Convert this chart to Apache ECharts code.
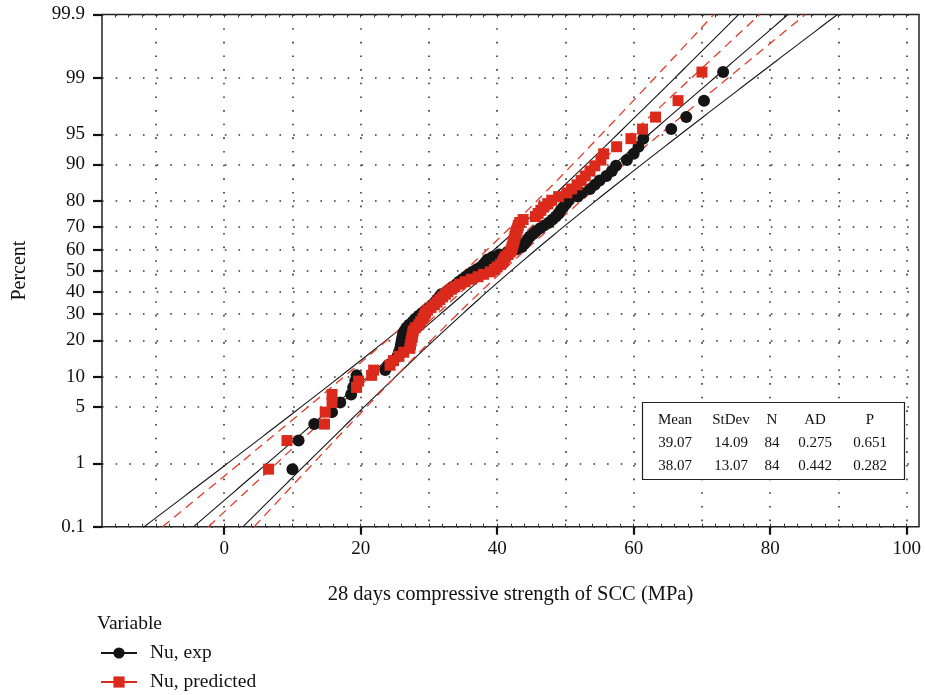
<!DOCTYPE html>
<html><head><meta charset="utf-8">
<script src="https://cdn.jsdelivr.net/npm/echarts@6/dist/echarts.min.js"></script>
<style>html,body{margin:0;padding:0;background:#fff}#c{width:925px;height:695px}</style>
</head><body><div id="c"></div>
<script>
const expValues = [
  10.0, 10.9, 13.2, 15.8, 17.0, 18.6, 18.9, 19.2, 19.4, 23.6,
  24.0, 24.8, 25.4, 25.6, 25.8, 25.9, 26.0, 26.1, 26.2, 26.4,
  26.7, 27.1, 27.6, 28.0, 28.5, 29.0, 29.5, 30.0, 30.5, 30.9,
  31.2, 31.5, 31.8, 32.6, 33.0, 33.5, 34.0, 34.4, 34.9, 35.4,
  35.9, 36.4, 37.0, 37.6, 38.0, 38.3, 38.6, 39.3, 40.3, 41.5,
  42.8, 43.6, 43.9, 44.2, 44.5, 44.8, 45.3, 45.7, 46.3, 46.9,
  47.6, 48.1, 48.6, 49.0, 49.3, 49.7, 50.1, 50.5, 51.8, 52.4,
  53.6, 54.3, 55.0, 56.0, 56.8, 57.4, 59.0, 60.0, 60.7, 61.4,
  65.5, 67.7, 70.3, 73.1
];
const predValues = [
  6.5, 9.2, 14.7, 14.8, 15.8, 15.8, 19.4, 19.7, 21.6, 21.9,
  24.3, 24.8, 25.6, 26.3, 27.2, 27.3, 27.4, 27.5, 27.6, 27.7,
  28.0, 28.5, 28.8, 29.1, 29.3, 29.5, 29.8, 30.3, 30.8, 31.2,
  31.6, 32.0, 32.4, 32.8, 33.3, 33.8, 34.5, 35.3, 36.2, 37.2,
  38.0, 39.0, 39.6, 40.0, 40.5, 40.8, 41.0, 41.2, 41.6, 41.9,
  42.1, 42.2, 42.3, 42.4, 42.5, 42.6, 42.7, 42.8, 43.0, 43.1,
  43.3, 43.8, 45.6, 46.0, 46.4, 46.8, 47.4, 48.0, 49.0, 50.2,
  50.9, 51.7, 52.3, 52.9, 53.6, 54.3, 55.2, 55.6, 57.5, 59.6,
  61.3, 63.2, 66.5, 70.0
];
const seriesNames = ['Nu, exp', 'Nu, predicted'];
const fitMeans = [39.07, 38.07];
const fitStDevs = [14.09, 13.07];
const fitN = [84, 84];
const percentTicks = [0.1, 1, 5, 10, 20, 30, 40, 50, 60, 70, 80, 90, 95, 99, 99.9];
const xMajorTicks = [0, 20, 40, 60, 80, 100];
const xGridTicks = [-10, 0, 10, 20, 30, 40, 50, 60, 70, 80, 90, 100];
const xMinorTicks = [-16,-14,-12,-10,-8,-6,-4,-2,0,2,4,6,8,10,12,14,16,18,20,22,24,26,28,30,32,34,36,38,40,42,44,46,48,50,52,54,56,58,60,62,64,66,68,70,72,74,76,78,80,82,84,86,88,90,92,94,96,98,100];
const statsHeader = ['Mean', 'StDev', 'N', 'AD', 'P'];
const statsRow1 = ['39.07', '14.09', '84', '0.275', '0.651'];
const statsRow2 = ['38.07', '13.07', '84', '0.442', '0.282'];

// ---- normal probability scale helpers ----
function probit(p){
  const a=[-3.969683028665376e+01,2.209460984245205e+02,-2.759285104469687e+02,1.383577518672690e+02,-3.066479806614716e+01,2.506628277459239e+00];
  const b=[-5.447609879822406e+01,1.615858368580409e+02,-1.556989798598866e+02,6.680131188771972e+01,-1.328068155288572e+01];
  const c=[-7.784894002430293e-03,-3.223964580411365e-01,-2.400758277161838e+00,-2.549671875000000e+00,4.374664141464968e+00,2.938163982698783e+00];
  const d=[7.784695709041462e-03,3.224671290700398e-01,2.445134137142996e+00,3.754408661907416e+00];
  const pl=0.02425, ph=1-pl; let q,r;
  if(p<pl){q=Math.sqrt(-2*Math.log(p));return (((((c[0]*q+c[1])*q+c[2])*q+c[3])*q+c[4])*q+c[5])/((((d[0]*q+d[1])*q+d[2])*q+d[3])*q+1);}
  if(p>ph){q=Math.sqrt(-2*Math.log(1-p));return -(((((c[0]*q+c[1])*q+c[2])*q+c[3])*q+c[4])*q+c[5])/((((d[0]*q+d[1])*q+d[2])*q+d[3])*q+1);}
  q=p-0.5;r=q*q;return (((((a[0]*r+a[1])*r+a[2])*r+a[3])*r+a[4])*r+a[5])*q/(((((b[0]*r+b[1])*r+b[2])*r+b[3])*r+b[4])*r+1);
}
const zTicks = percentTicks.map(p => probit(p/100));
const zMin = zTicks[0], zMax = zTicks[zTicks.length-1];
const X_MIN = -17.9, X_MAX = 101.8;

// plotting positions (median ranks)
function probPoints(vals){
  const n = vals.length;
  return vals.map((v,i) => [v, probit((i+1-0.3)/(n+0.4))]);
}
// fitted line and 95% confidence band
function fitCurve(mu, sd, n, k){
  const pts = [];
  const steps = 120;
  for(let s=0;s<=steps;s++){
    const z = zMin + (zMax-zMin)*s/steps;
    const se = sd*Math.sqrt((1 + z*z/2)/n);
    pts.push([mu + sd*z + k*1.96*se, z]);
  }
  return pts;
}

const BLACK = '#151515', RED = '#db2a1c', REDLINE = '#e63a2b';
const FONT = 'Liberation Serif';
const chart = echarts.init(document.getElementById('c'), null, {renderer:'canvas'});

const dotted = {show:true, lineStyle:{color:'#333', width:1.6, type:[1.6, 12.05]}};
const baseX = {type:'value', min:X_MIN, max:X_MAX, axisLine:{show:false, onZero:false}, splitLine:{show:false}, axisLabel:{show:false}, axisTick:{show:false}};

const series = [];
[-1,0,1].forEach(k => series.push({type:'line', name:'fitE'+k, data:fitCurve(fitMeans[0],fitStDevs[0],fitN[0],k), showSymbol:false, symbol:'none', silent:true, lineStyle:{color:BLACK, width:1.1}, z:2, legendHoverLink:false}));
[-1,0,1].forEach(k => series.push({type:'line', name:'fitP'+k, data:fitCurve(fitMeans[1],fitStDevs[1],fitN[1],k), showSymbol:false, symbol:'none', silent:true, lineStyle:{color:REDLINE, width:1.3, type:[9,6]}, z:2, legendHoverLink:false}));
series.push({type:'line', name:seriesNames[0], data:probPoints(expValues), symbol:'circle', symbolSize:12, showAllSymbol:true,
  itemStyle:{color:BLACK}, lineStyle:{color:BLACK, width:0, opacity:0}, z:5});
series.push({type:'line', name:seriesNames[1], data:probPoints(predValues), symbol:'rect', symbolSize:11, showAllSymbol:true,
  itemStyle:{color:RED}, lineStyle:{color:RED, width:0, opacity:0}, z:6});

const colX = [675, 731, 772, 815, 870];
const graphics = [
  {type:'text', left:97, top:614, style:{text:'Variable', font:'19.5px "'+FONT+'"', fill:'#111'}},
  {type:'rect', shape:{x:642.5, y:402.5, width:262, height:77}, style:{fill:'#fff', stroke:'#222', lineWidth:1.2}, z:10}
];
[statsHeader, statsRow1, statsRow2].forEach((row, r) => {
  row.forEach((t, ci) => graphics.push({type:'text', x:colX[ci], y:[420,443,466][r], z:11,
    style:{text:t, font:'15px "'+FONT+'"', fill:'#111', align:'center', verticalAlign:'middle'}}));
});

chart.setOption({
  animation:false,
  backgroundColor:'#fff',
  textStyle:{fontFamily:FONT},
  grid:{left:102, right:6, top:14.5, bottom:168.3, show:true, borderColor:'#222', borderWidth:1.5, backgroundColor:'transparent'},
  xAxis:[
    Object.assign({}, baseX, {position:'bottom',
      name:'28 days compressive strength of SCC (MPa)', nameLocation:'middle', nameGap:57,
      nameTextStyle:{fontFamily:FONT, fontSize:20.5, color:'#111'},
      axisTick:{show:true, inside:false, length:8, lineStyle:{color:'#111', width:2.2}, customValues:xMajorTicks},
      axisLabel:{show:true, margin:13, fontFamily:FONT, fontSize:19, color:'#111', customValues:xMajorTicks}}),
    Object.assign({}, baseX, {position:'bottom', axisTick:{show:true, inside:true, length:3, lineStyle:{color:'#333', width:1}, customValues:xMinorTicks}}),
    Object.assign({}, baseX, {position:'top', axisTick:{show:true, inside:true, length:3, lineStyle:{color:'#333', width:1}, customValues:xMinorTicks}}),
    Object.assign({}, baseX, {position:'bottom', axisTick:{show:false, customValues:xGridTicks}, splitLine:dotted})
  ],
  yAxis:[{
    type:'value', min:zMin, max:zMax, position:'left',
    name:'Percent', nameLocation:'middle', nameGap:72, nameRotate:90,
    nameTextStyle:{fontFamily:FONT, fontSize:20, color:'#111'},
    axisLine:{show:false, onZero:false},
    axisTick:{show:true, inside:false, length:9, lineStyle:{color:'#111', width:2.2}, customValues:zTicks},
    axisLabel:{show:true, margin:17, fontFamily:FONT, fontSize:19, color:'#111', customValues:zTicks,
      formatter:(v) => { let bi=0, bd=1e9; zTicks.forEach((z,i)=>{const d=Math.abs(z-v); if(d<bd){bd=d;bi=i;}}); return String(percentTicks[bi]); }},
    splitLine:dotted
  }],
  legend:{
    data:[
      {name:seriesNames[0], lineStyle:{opacity:1, width:2, color:BLACK}},
      {name:seriesNames[1], lineStyle:{opacity:1, width:2, color:RED}}
    ],
    orient:'vertical', left:100, top:643, padding:0, itemWidth:36, itemHeight:14, itemGap:9,
    textStyle:{fontFamily:FONT, fontSize:19.5, lineHeight:20, color:'#111', padding:[0,0,0,8]}, selectedMode:false
  },
  graphic:graphics,
  series:series
});
</script></body></html>
